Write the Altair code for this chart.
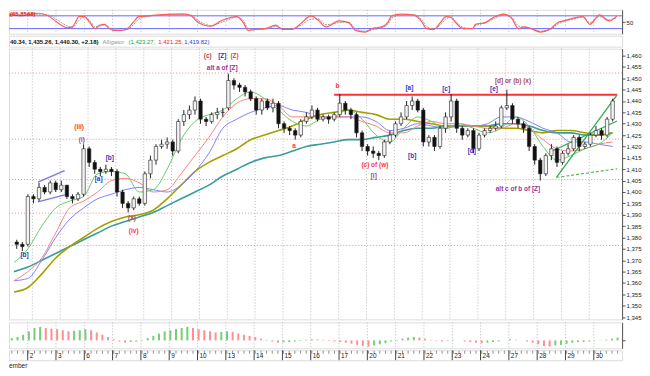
import altair as alt
import pandas as pd
import numpy as np

# ---------------- data ----------------
opens = [1378,1377,1377,1398,1397,1402,1400,1404,1401,1403,
         1398,1397,1399,1419,1413,1410,1409,1410,1409,1400,
         1395,1393,1397,1395,1408,1414,1420,1421,1422,1418,
         1431,1434,1436,1440,1432,1431,1434,1435,1437,1449,
         1447,1446,1444,1441,1436,1440,1437,1439,1430,1428,
         1427,1425,1431,1433,1436,1432,1433,1432,1434,1439,
         1436,1434,1426,1420,1418,1417,1416,1422,1425,1430,
         1433,1438,1440,1436,1422,1424,1420,1428,1433,1440,
         1428,1425,1427,1419,1425,1427,1428,1429,1437,1438,
         1432,1430,1428,1420,1414,1408,1416,1419,1413,1417,
         1419,1424,1420,1421,1425,1427,1425,1432]
highs = [1379,1378,1399,1399,1404,1403,1405,1405,1405,1403,
         1399,1400,1421,1420,1414,1411,1412,1411,1410,1401,
         1396,1398,1398,1409,1416,1421,1423,1424,1423,1432,
         1436,1438,1442,1441,1433,1435,1437,1437,1452,1450,
         1448,1447,1445,1442,1441,1441,1441,1440,1431,1429,
         1428,1432,1435,1438,1437,1434,1434,1435,1443,1440,
         1437,1435,1427,1421,1420,1418,1423,1427,1431,1435,
         1440,1442,1441,1437,1425,1425,1429,1435,1443,1441,
         1429,1428,1428,1426,1428,1429,1431,1438,1445,1439,
         1433,1431,1429,1421,1415,1417,1421,1420,1418,1421,
         1425,1425,1422,1426,1429,1428,1433,1441]
lows = [1375,1374,1376,1395,1396,1399,1399,1400,1400,1397,
        1395,1396,1398,1411,1408,1407,1408,1407,1398,1393,
        1391,1392,1394,1394,1406,1412,1419,1419,1416,1417,
        1429,1432,1434,1430,1429,1430,1432,1433,1436,1445,
        1444,1442,1440,1434,1434,1436,1435,1428,1426,1425,
        1423,1424,1430,1432,1431,1431,1430,1431,1433,1434,
        1432,1424,1418,1416,1415,1414,1415,1421,1424,1429,
        1432,1436,1435,1420,1420,1418,1419,1426,1431,1426,
        1423,1424,1417,1418,1424,1426,1427,1428,1436,1430,
        1428,1426,1418,1412,1405,1407,1414,1411,1412,1416,
        1418,1418,1419,1420,1424,1423,1424,1431]
closes = [1377,1376,1398,1397,1402,1400,1404,1401,1403,1398,
          1397,1399,1419,1413,1410,1409,1410,1409,1400,1395,
          1393,1397,1395,1408,1414,1420,1421,1422,1418,1431,
          1434,1436,1440,1432,1431,1434,1435,1435,1449,1447,
          1446,1444,1441,1436,1440,1437,1439,1430,1428,1427,
          1425,1431,1433,1436,1432,1433,1432,1434,1439,1436,
          1434,1426,1420,1418,1417,1416,1422,1425,1430,1433,
          1438,1440,1436,1422,1424,1420,1428,1433,1440,1428,
          1425,1427,1419,1425,1427,1428,1429,1437,1438,1432,
          1430,1428,1420,1414,1408,1416,1419,1413,1417,1419,
          1424,1420,1421,1425,1427,1425,1432,1440]

# moving averages, sampled every 2.5 bars
ma_green = [1369,1375,1385,1393,1396,1398,1408,1409,1408,1400,
            1401,1410,1423,1431,1434,1436,1441,1444,1441,1436,
            1431,1429,1432,1433,1436,1432,1425,1422,1428,1433,
            1431,1428,1430,1428,1426,1428,1433,1429,1420,1414,
            1416,1419,1421,1426]
ma_red = [1361,1365,1371,1382,1393,1396,1400,1405,1406,1404,
          1400,1401,1408,1416,1424,1433,1439,1441,1441,1438,
          1433,1433,1433,1433,1433,1431,1429,1426,1426,1429,
          1431,1430,1430,1429,1428,1428,1430,1428,1423,1419,
          1418,1419,1421,1422]
ma_blue = [1361,1362,1370,1380,1388,1393,1397,1399,1401,1402,
           1401,1400,1403,1409,1417,1428,1432,1435,1437,1438,
           1436,1435,1433,1433,1433,1433,1431,1427,1428,1430,
           1429,1428,1429,1429,1430,1433,1433,1431,1428,1426,
           1422,1422,1421,1420]
ma_olive = [1356,1358,1364,1371,1376,1380,1384,1387,1389,1390,
            1392,1397,1403,1409,1413,1416,1419,1423,1425,1427,
            1429,1432,1434,1435,1436,1435,1434,1432,1432,1431,
            1430,1429,1429,1429,1429,1428,1428,1427,1426,1427,
            1427,1426,1425,1426]
ma_teal = [1365,1367,1370,1373,1376,1379,1382,1385,1387,1389,
           1391,1394,1397,1400,1403,1407,1410,1413,1415,1416,
           1418,1420,1421,1422,1423,1423,1424,1425,1427,1428,
           1428,1429,1429,1429,1429,1430,1430,1429,1427,1426,
           1426,1425,1425,1426]
ma_pos = [-0.5 + 2.5 * k for k in range(len(ma_green))]

# oscillator (top panel)
osc_pos = [-0.5,1.7,4.7,6.4,8.1,9.8,10.7,11.9,12.8,13.8,
           14.7,15.5,16.4,17.2,17.9,19.0,20.2,21.4,22.4,24.1,
           25.9,28.3,30.5,31.7,32.6,34.0,35.2,36.9,38.6,39.7,
           40.9,41.7,43.1,44.8,46.6,47.8,49.5,50.7,52.9,54.1,
           55.5,57.8,59.5,60.7,62.4,63.6,65.3,66.4,67.1,68.8,
           71.0,72.2,73.3,74.5,75.7,76.7,77.6,78.4,79.7,81.4,
           81.9,83.6,85.3,86.9,88.3,89.5,90.5,91.7,93.4,95.2,
           96.4,97.4,99.1,100.9,102.1,103.8,105.5,106.9]
osc_red = [88,80,92,80,48,24,28,76,76,48,
           20,36,40,20,12,12,16,48,76,80,
           84,88,88,80,56,36,32,56,72,76,
           48,12,16,20,36,16,16,36,80,60,
           28,56,48,12,4,20,28,48,80,88,
           84,60,20,16,48,76,72,48,20,20,
           40,48,76,88,68,20,28,20,4,20,
           48,56,68,76,40,84,56,80]
osc_gray = [85,84,88,84,60,32,26,60,74,58,
            28,32,38,26,16,13,14,36,64,78,
            82,86,88,84,64,42,34,48,66,74,
            58,22,16,18,30,20,17,30,64,66,
            38,48,50,20,8,14,24,40,70,84,
            86,68,30,18,38,66,74,54,26,20,
            34,46,68,84,74,32,26,22,8,16,
            40,52,64,74,48,76,62,72]
osc_levels = [80, 20]

# histogram (bottom panel)
hist_vals = [2,3,5,8,11,12,11,10.5,10,9,
             8,8.5,9,10,9,7,5,3,1,-1,
             -2,-1.5,-1,0.5,2,4,6,8,9,10,
             11,12,11,10,9,8,7,7.5,8,7.5,
             6,5,4,3,1.5,0.5,-1,-2,-1.8,-1.5,
             -1,-0.5,0.5,1,0.8,0.5,-0.5,-1,-1.5,-2,
             -3,-4,-5,-5.5,-4.5,-3.5,-2.5,-1,0.5,1.5,
             2.5,3,2.5,1.5,0.5,-0.5,-1,-0.5,0.5,0,
             -1,-1.5,-2,-2.5,-2,-1.5,-1,0,1,0.5,
             0,-1,-2,-3.5,-5,-5.5,-4.5,-4,-3,-2.2,
             -1.5,-1.6,-1,-0.3,0.3,0.6,1.5,2.5]

day_labels = ["2","3","6","7","8","9","10","13","14","15","16",
              "17","20","21","22","23","24","27","28","29","30"]
day_start = [2.8 + 5 * k for k in range(len(day_labels))]

price_ticks = list(range(1345, 1461, 5))
level_lines = [1452.3, 1423.2, 1405.5, 1390.7, 1376.5]
resistance_price = 1442.7
resistance_from = 57.0

green_name = ["g_up", "g_up", "g_low", "g_low"]
green_bar = [96.9, 107.8, 96.0, 107.8]
green_price = [1406.4, 1442.7, 1417.9, 1431.2]
blue_name = ["b_up", "b_up", "b_low", "b_low"]
blue_bar = [3.8, 8.6, 3.8, 8.6]
blue_price = [1404.3, 1409.4, 1395.7, 1398.7]
dash_bar = [96.9, 107.8]
dash_price = [1406.4, 1410.2]

lab_text = ["(c)", "[Z]", "(Z)", "alt a of [Z]", "(iii)", "(i)", "[b]", "[a]",
            "(x)", "(iv)", "[b]", "a", "b", "(c) of (w)", "[i]", "[a]", "[b]",
            "[c]", "[d]", "[e]", "[d] or (b) (x)", "alt c of b of [Z]"]
lab_bar = [34.3, 36.9, 39.1, 36.9, 11.2, 11.7, 16.7, 14.7, 20.7, 21.0, 1.4,
           49.8, 57.6, 64.3, 64.1, 70.5, 71.0, 77.1, 81.7, 85.7, 89.1, 90.0]
lab_price = [1459.8, 1459.8, 1459.8, 1454.7, 1428.6, 1423.0, 1415.0, 1405.5,
             1388.4, 1382.9, 1372.2, 1420.0, 1446.6, 1412.0, 1407.2, 1445.7,
             1415.8, 1445.3, 1418.0, 1445.3, 1449.0, 1401.3]
lab_kind = ["brown", "blue", "red", "purple", "red", "brown", "blue", "blue",
            "brown", "red", "blue", "red", "red", "red", "brown", "blue", "blue",
            "blue", "blue", "blue", "brown", "purple"]

header_parts = ["40.34, 1,435.26, 1,440.30, +2.18)", "Alligator", "(1,423.27,", "1,421.25,", "1,419.82)"]

# ---------------- chart ----------------
W = 616
FONT = "Liberation Sans"
xs = alt.Scale(domain=[-0.5, 107.8], nice=False, zero=False)
X_NONE = dict(scale=xs, axis=None)

candles = pd.DataFrame({"bar": list(range(len(closes))), "open": opens,
                        "high": highs, "low": lows, "close": closes})
candles["up"] = candles["close"] >= candles["open"]
days = pd.DataFrame({"pos": day_start, "label": day_labels})

def vgrid():
    return alt.Chart(days).mark_rule(color="#b8b8b8", strokeDash=[1, 2], strokeWidth=1).encode(
        x=alt.X("pos:Q", **X_NONE))

# --- oscillator panel
osc = pd.DataFrame({"pos": osc_pos, "red": osc_red, "gray": osc_gray})
ys_osc = alt.Scale(domain=[-4, 108], nice=False, zero=False)
osc_axis = alt.Axis(orient="right", values=[50], title=None, labelFontSize=6, tickSize=3,
                    labelPadding=1, grid=False, labelFont=FONT, domainColor="#555555",
                    tickColor="#555555", labelColor="#222222")
osc_levels_df = pd.DataFrame({"lvl": osc_levels})
p_osc = alt.layer(
    vgrid(),
    alt.Chart(osc_levels_df).mark_rule(color="#6666ff", strokeWidth=1).encode(
        y=alt.Y("lvl:Q", scale=ys_osc, axis=osc_axis)),
    alt.Chart(osc).mark_line(color="#9a9a9a", strokeWidth=1, strokeDash=[2, 1],
                             interpolate="monotone", clip=True).encode(
        x=alt.X("pos:Q", **X_NONE), y=alt.Y("gray:Q", scale=ys_osc, axis=osc_axis)),
    alt.Chart(osc).mark_line(color="#ff5a5a", strokeWidth=1.2,
                             interpolate="monotone", clip=True).encode(
        x=alt.X("pos:Q", **X_NONE), y=alt.Y("red:Q", scale=ys_osc, axis=osc_axis)),
    alt.Chart(pd.DataFrame({"t": ["(65.8568)"]})).mark_text(
        color="#dd2222", fontSize=6, font=FONT, align="left", baseline="top", fontWeight="bold").encode(
        text="t:N", x=alt.value(1), y=alt.value(1)),
).properties(width=W, height=24)

# --- header strip
header_colors = ["#111111", "#999999", "#22aa22", "#ee2222", "#3333ee"]
header_x = [1, 94, 120, 150, 176]
hdr_layers = []
for txt, col, xp in zip(header_parts, header_colors, header_x):
    hdr_layers.append(
        alt.Chart(pd.DataFrame({"t": [txt]})).mark_text(
            color=col, fontSize=6, font=FONT, align="left", baseline="middle",
            fontWeight="bold" if col == "#111111" else "normal").encode(
            text="t:N", x=alt.value(xp), y=alt.value(6)))
p_hdr = alt.layer(*hdr_layers).properties(width=W, height=11)

# --- main price panel
ys = alt.Scale(domain=[1344, 1463], nice=False, zero=False)
main_axis = alt.Axis(orient="right", values=price_ticks, format=",", title=None, labelFontSize=6,
                     tickSize=3, labelPadding=1, grid=False, labelFont=FONT,
                     domainColor="#555555", tickColor="#555555", labelColor="#222222")
YM = dict(scale=ys, axis=main_axis)

levels_df = pd.DataFrame({"p": level_lines})
hlines = alt.Chart(levels_df).mark_rule(color="#f08a8a", strokeDash=[1, 2], strokeWidth=1).encode(
    y=alt.Y("p:Q", **YM))

def ma_layer(vals, color, width):
    df = pd.DataFrame({"pos": ma_pos, "v": vals})
    return alt.Chart(df).mark_line(color=color, strokeWidth=width, interpolate="monotone", clip=True).encode(
        x=alt.X("pos:Q", **X_NONE), y=alt.Y("v:Q", **YM))

res_df = pd.DataFrame({"a": [resistance_from], "b": [107.8], "p": [resistance_price]})
res = alt.Chart(res_df).mark_rule(color="#ff3030", strokeWidth=2).encode(
    x=alt.X("a:Q", **X_NONE), x2="b:Q", y=alt.Y("p:Q", **YM))

def trend_layer(names, bars, prices, color):
    df = pd.DataFrame({"name": names, "bar": bars, "price": prices})
    return alt.Chart(df).mark_line(color=color, strokeWidth=1.3, clip=True).encode(
        x=alt.X("bar:Q", **X_NONE), y=alt.Y("price:Q", **YM), detail="name:N")

dash_df = pd.DataFrame({"bar": dash_bar, "price": dash_price})
dash = alt.Chart(dash_df).mark_line(color="#55bb55", strokeWidth=1.2, strokeDash=[3, 2]).encode(
    x=alt.X("bar:Q", **X_NONE), y=alt.Y("price:Q", **YM))

wicks = alt.Chart(candles).mark_rule(color="#222222", strokeWidth=1).encode(
    x=alt.X("bar:Q", **X_NONE), y=alt.Y("low:Q", **YM), y2="high:Q")
bodies = alt.Chart(candles).mark_bar(size=3.4, stroke="#222222", strokeWidth=0.6).encode(
    x=alt.X("bar:Q", **X_NONE), y=alt.Y("open:Q", **YM), y2="close:Q",
    fill=alt.condition("datum.up", alt.value("#f4f4f4"), alt.value("#111111")))

labels_df = pd.DataFrame({"t": lab_text, "bar": lab_bar, "price": lab_price, "kind": lab_kind})
kind_colors = {"blue": "#3333bb", "red": "#ff3333", "brown": "#b04848", "purple": "#993399"}
label_layers = []
for kind, col in kind_colors.items():
    label_layers.append(
        alt.Chart(labels_df[labels_df["kind"] == kind]).mark_text(
            fontSize=6.5, font=FONT, fontWeight="bold", color=col).encode(
            x=alt.X("bar:Q", **X_NONE), y=alt.Y("price:Q", **YM), text="t:N"))

p_main = alt.layer(
    hlines, vgrid(),
    ma_layer(ma_teal, "#3a9c9c", 1.6),
    ma_layer(ma_olive, "#a3a000", 1.6),
    ma_layer(ma_blue, "#8080ff", 1),
    ma_layer(ma_red, "#ff8080", 1),
    ma_layer(ma_green, "#66cc66", 1),
    res,
    trend_layer(green_name, green_bar, green_price, "#33aa55"),
    trend_layer(blue_name, blue_bar, blue_price, "#7777ee"),
    dash, wicks, bodies, *label_layers,
).properties(width=W, height=272)

# --- histogram panel
hist = pd.DataFrame({"bar": list(range(len(hist_vals))), "v": hist_vals})
hist["rise"] = hist["v"].diff().fillna(1) >= 0
hist["zero"] = 0
ys_h = alt.Scale(domain=[-7, 16], nice=False, zero=False)
h_axis = alt.Axis(orient="right", values=[0], labels=False, title=None, tickSize=3, grid=False,
                  domainColor="#555555", tickColor="#555555")
p_hist = alt.layer(
    vgrid(),
    alt.Chart(hist).mark_rule(strokeWidth=2).encode(
        x=alt.X("bar:Q", **X_NONE),
        y=alt.Y("v:Q", scale=ys_h, axis=h_axis),
        y2="zero:Q",
        color=alt.condition("datum.rise", alt.value("#77cc77"), alt.value("#ff8f8f"))),
).properties(width=W, height=26)

# --- date ruler strip
bars_df = pd.DataFrame({"bar": list(range(len(closes)))})
p_strip = alt.layer(
    alt.Chart(bars_df).mark_tick(color="#666666", thickness=1, size=3).encode(
        x=alt.X("bar:Q", **X_NONE), y=alt.value(2)),
    alt.Chart(days).mark_rule(color="#444444").encode(
        x=alt.X("pos:Q", **X_NONE), y=alt.value(0), y2=alt.value(10)),
    alt.Chart(days).mark_text(fontSize=6.5, font=FONT, align="left", baseline="middle", dx=2,
                              color="#222222").encode(
        x=alt.X("pos:Q", **X_NONE), y=alt.value(6), text="label:N"),
    alt.Chart(pd.DataFrame({"t": ["ember"]})).mark_text(fontSize=6.5, font=FONT, align="left",
                                                        baseline="middle", color="#222222").encode(
        text="t:N", x=alt.value(0), y=alt.value(16)),
).properties(width=W, height=10)

chart = alt.vconcat(p_osc, p_hdr, p_main, p_hist, p_strip, spacing=0).properties(
    padding=0).configure_view(stroke="#8a8a8a", strokeWidth=1).configure(background="white")

chart.save("out.html", embed_options={"renderer": "svg", "actions": False})
